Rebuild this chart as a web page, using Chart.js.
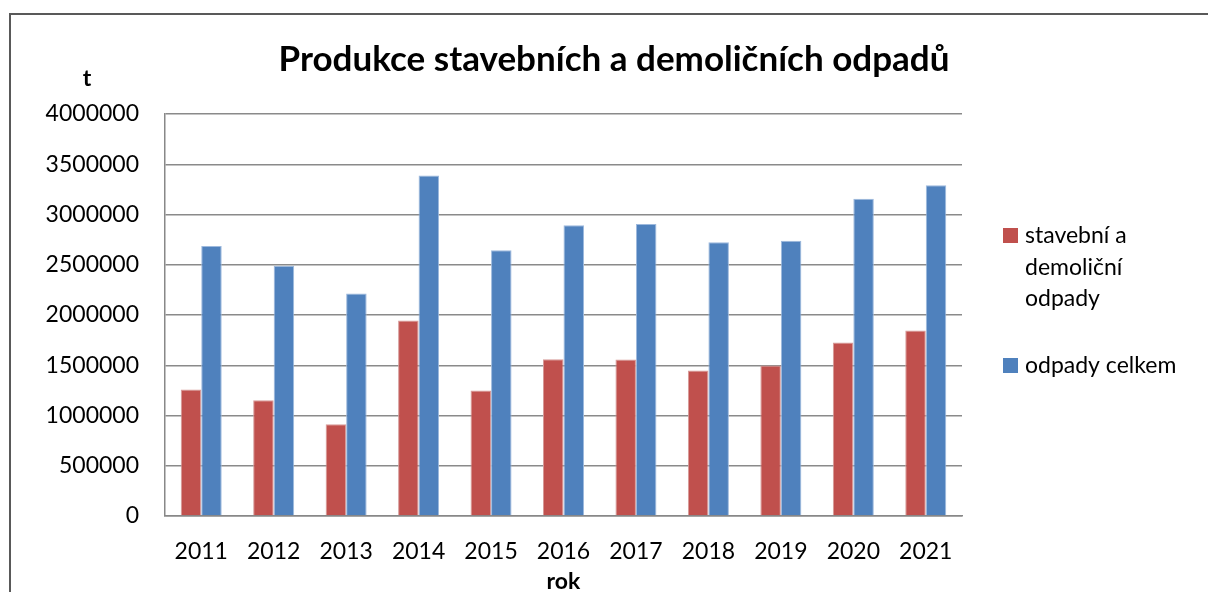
<!DOCTYPE html>
<html>
<head>
<meta charset="utf-8">
<script src="https://cdn.jsdelivr.net/npm/chart.js@4.4.1/dist/chart.umd.min.js"></script>
<style>
  html, body { margin: 0; padding: 0; background: #fff; }
  #wrap { position: relative; width: 1208px; height: 592px; overflow: hidden; }
  #frame { position: absolute; left: 9px; top: 13px; right: -4px; bottom: -4px;
           border-left: 2px solid #595959; border-top: 2px solid #595959; }
  canvas { position: absolute; left: 0; top: 0; }
</style>
</head>
<body>
<div id="wrap">
  <div id="frame"></div>
  <canvas id="myChart" width="1208" height="592"></canvas>
</div>
<script>
// data (tonnes)
const years = ['2011', '2012', '2013', '2014', '2015', '2016', '2017', '2018', '2019', '2020', '2021'];
const stavebni = [1258000, 1152000, 912000, 1946000, 1248000, 1560000, 1557000, 1447000, 1497000, 1727000, 1846000];
const celkem = [2687000, 2490000, 2215000, 3388000, 2644000, 2893000, 2906000, 2724000, 2740000, 3156000, 3292000];
const seriesNames = ['stavební a demoliční odpady', 'odpady celkem'];
const legendLines = [['stavební a', 'demoliční', 'odpady'], ['odpady celkem']];
const chartTitle = 'Produkce stavebních a demoličních odpadů';
const yMax = 4000000;
const yStep = 500000;

const FONT = 'Lato, "Open Sans", sans-serif';

// title, "t" unit label and the legend on the right, drawn by hand
const extras = {
    id: 'extras',
    afterDraw(chart) {
        const ctx = chart.ctx;
        ctx.save();
        ctx.fillStyle = '#000';
        ctx.textBaseline = 'middle';
        ctx.textAlign = 'center';
        ctx.font = 'bold 35px ' + FONT;
        ctx.fillText(chartTitle, 614, 60);

        ctx.font = 'bold 23px ' + FONT;
        ctx.fillText('t', 87, 79);

        ctx.font = '23px ' + FONT;
        ctx.textAlign = 'left';
        const tops = [228, 358];
        chart.data.datasets.forEach((ds, i) => {
            ctx.fillStyle = ds.backgroundColor;
            ctx.fillRect(1003, tops[i], 15, 15);
            ctx.fillStyle = '#000';
            legendLines[i].forEach((line, j) => {
                ctx.fillText(line, 1025, tops[i] + 8 + j * 31.5);
            });
        });
        ctx.restore();
    }
};

const myChartRef = document.getElementById('myChart').getContext('2d');
new Chart(myChartRef, {
    type: 'bar',
    data: {
        labels: years,
        datasets: [
            {
                label: seriesNames[0],
                data: stavebni,
                backgroundColor: '#C0504D',
                borderColor: '#D69A98',
                borderWidth: 1
            },
            {
                label: seriesNames[1],
                data: celkem,
                backgroundColor: '#4F81BD',
                borderColor: '#9DB9DD',
                borderWidth: 1
            }
        ]
    },
    options: {
        responsive: false,
        animation: false,
        layout: { padding: { left: 20, right: 246, top: 114, bottom: 0 } },
        datasets: { bar: { categoryPercentage: 0.566, barPercentage: 1 } },
        plugins: {
            legend: { display: false },
            tooltip: { enabled: false },
            title: { display: false }
        },
        scales: {
            x: {
                grid: { display: false, drawTicks: false },
                border: { color: '#888', width: 1.5 },
                ticks: { color: '#000', font: { family: FONT, size: 23 }, padding: 22, maxRotation: 0 },
                title: { display: true, text: 'rok', color: '#000', font: { family: FONT, size: 23, weight: 'bold', lineHeight: 0.9 }, padding: 0 },
                afterFit: s => { s.height = 76; }
            },
            y: {
                min: 0,
                max: yMax,
                grid: { color: '#8a8a8a', lineWidth: 1.5, drawTicks: false },
                border: { color: '#888', width: 1.5 },
                ticks: {
                    stepSize: yStep,
                    color: '#000',
                    font: { family: FONT, size: 23 },
                    padding: 26,
                    callback: v => String(v)
                },
                afterFit: s => { s.width = 145; }
            }
        }
    },
    plugins: [extras]
});
</script>
</body>
</html>
